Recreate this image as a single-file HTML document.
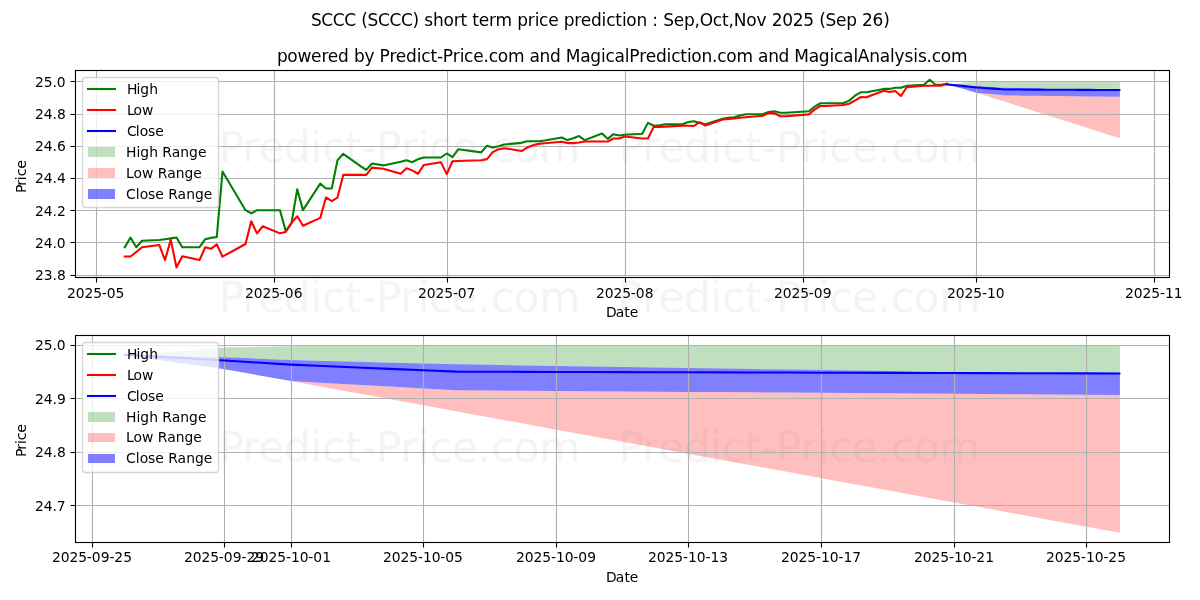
<!DOCTYPE html>
<html><head><meta charset="utf-8"><title>SCCC (SCCC) short term price prediction</title>
<style>
html,body{margin:0;padding:0;background:#fff;}
body{width:1200px;height:600px;overflow:hidden;}
svg{display:block;font-family:"DejaVu Sans","Liberation Sans",sans-serif;}
text{white-space:pre;}
</style></head><body>
<svg width="1200" height="600" viewBox="0 0 1200 600">
<rect width="1200" height="600" fill="#fff"/>
<clipPath id="clip1"><rect x="75.03" y="70.33" width="1094.11" height="206.56"/></clipPath>
<g clip-path="url(#clip1)">
<path d="M947.42 84.89 L947.42 84.89 L953.17 85.09 L958.92 85.29 L964.67 85.49 L970.42 85.92 L976.17 86.36 L981.92 86.61 L987.67 86.87 L993.42 87.12 L999.17 87.38 L1004.92 87.63 L1010.67 87.79 L1016.42 87.94 L1022.17 88.1 L1027.92 88.26 L1033.66 88.41 L1039.41 88.57 L1045.16 88.72 L1050.91 88.88 L1056.66 89.04 L1062.41 89.19 L1068.16 89.35 L1073.91 89.5 L1079.66 89.66 L1085.41 89.82 L1091.16 89.97 L1096.91 90.13 L1102.66 90.29 L1108.41 90.44 L1114.16 90.5 L1119.91 90.53 L1119.91 81.83 L1119.91 81.83 L1114.16 81.83 L1108.41 81.83 L1102.66 81.83 L1096.91 81.83 L1091.16 81.83 L1085.41 81.83 L1079.66 81.83 L1073.91 81.83 L1068.16 81.83 L1062.41 81.83 L1056.66 81.83 L1050.91 81.83 L1045.16 81.83 L1039.41 81.83 L1033.66 81.83 L1027.92 81.83 L1022.17 81.83 L1016.42 81.83 L1010.67 81.83 L1004.92 81.83 L999.17 81.83 L993.42 81.83 L987.67 81.83 L981.92 81.99 L976.17 82.15 L970.42 82.37 L964.67 82.59 L958.92 83.36 L953.17 84.12 L947.42 84.89Z" fill="#008000" fill-opacity="0.25"/>
<path d="M947.42 84.89 L947.42 84.89 L953.17 86.3 L958.92 87.72 L964.67 89.13 L970.42 90.89 L976.17 92.65 L981.92 94.48 L987.67 96.3 L993.42 98.13 L999.17 99.95 L1004.92 101.78 L1010.67 103.6 L1016.42 105.43 L1022.17 107.25 L1027.92 109.08 L1033.66 110.9 L1039.41 112.73 L1045.16 114.55 L1050.91 116.38 L1056.66 118.2 L1062.41 120.03 L1068.16 121.85 L1073.91 123.68 L1079.66 125.5 L1085.41 127.33 L1091.16 129.15 L1096.91 130.98 L1102.66 132.8 L1108.41 134.63 L1114.16 136.45 L1119.91 138.28 L1119.91 96.81 L1119.91 96.81 L1114.16 96.74 L1108.41 96.67 L1102.66 96.6 L1096.91 96.53 L1091.16 96.46 L1085.41 96.39 L1079.66 96.33 L1073.91 96.26 L1068.16 96.19 L1062.41 96.12 L1056.66 96.05 L1050.91 95.98 L1045.16 95.91 L1039.41 95.84 L1033.66 95.77 L1027.92 95.7 L1022.17 95.63 L1016.42 95.56 L1010.67 95.49 L1004.92 95.42 L999.17 94.87 L993.42 94.32 L987.67 93.76 L981.92 93.21 L976.17 92.65 L970.42 90.89 L964.67 89.13 L958.92 87.72 L953.17 86.3 L947.42 84.89Z" fill="#ff0000" fill-opacity="0.25"/>
<path d="M947.42 84.89 L947.42 84.89 L953.17 86.3 L958.92 87.72 L964.67 89.13 L970.42 90.89 L976.17 92.65 L981.92 93.21 L987.67 93.76 L993.42 94.32 L999.17 94.87 L1004.92 95.42 L1010.67 95.49 L1016.42 95.56 L1022.17 95.63 L1027.92 95.7 L1033.66 95.77 L1039.41 95.84 L1045.16 95.91 L1050.91 95.98 L1056.66 96.05 L1062.41 96.12 L1068.16 96.19 L1073.91 96.26 L1079.66 96.33 L1085.41 96.39 L1091.16 96.46 L1096.91 96.53 L1102.66 96.6 L1108.41 96.67 L1114.16 96.74 L1119.91 96.81 L1119.91 90.53 L1119.91 90.53 L1114.16 90.5 L1108.41 90.44 L1102.66 90.29 L1096.91 90.13 L1091.16 89.97 L1085.41 89.82 L1079.66 89.66 L1073.91 89.5 L1068.16 89.35 L1062.41 89.19 L1056.66 89.04 L1050.91 88.88 L1045.16 88.72 L1039.41 88.57 L1033.66 88.41 L1027.92 88.26 L1022.17 88.1 L1016.42 87.94 L1010.67 87.79 L1004.92 87.63 L999.17 87.38 L993.42 87.12 L987.67 86.87 L981.92 86.61 L976.17 86.36 L970.42 85.92 L964.67 85.49 L958.92 85.29 L953.17 85.09 L947.42 84.89Z" fill="#0000ff" fill-opacity="0.5"/>
</g>
<path d="M96.5 70.5 V277.5 M274.5 70.5 V277.5 M447.5 70.5 V277.5 M625.5 70.5 V277.5 M803.5 70.5 V277.5 M976.5 70.5 V277.5 M1154.5 70.5 V277.5 M75.5 275.5H1169.5 M75.5 242.5H1169.5 M75.5 210.5H1169.5 M75.5 178.5H1169.5 M75.5 146.5H1169.5 M75.5 114.5H1169.5 M75.5 81.5H1169.5" stroke="#b0b0b0" stroke-width="1.11" fill="none"/>
<path d="M96.5 277.5V282.5 M274.5 277.5V282.5 M447.5 277.5V282.5 M625.5 277.5V282.5 M803.5 277.5V282.5 M976.5 277.5V282.5 M1154.5 277.5V282.5 M75.5 275.5H70.5 M75.5 242.5H70.5 M75.5 210.5H70.5 M75.5 178.5H70.5 M75.5 146.5H70.5 M75.5 114.5H70.5 M75.5 81.5H70.5" stroke="#000" stroke-width="1.11" fill="none"/>
<text x="67 75.75 84.5 93.25 101.75 106.625 115.375" y="297.61" font-size="13.89" fill="#000000">2025-05</text>
<text x="245 253.75 262.5 271.25 279.75 284.625 293.625" y="297.61" font-size="13.89" fill="#000000">2025-06</text>
<text x="418 426.75 435.5 444.25 453 457.625 466.375" y="297.61" font-size="13.89" fill="#000000">2025-07</text>
<text x="596 604.75 613.5 622.25 630.75 635.625 644.625" y="297.61" font-size="13.89" fill="#000000">2025-08</text>
<text x="774 782.75 791.5 800.25 808.75 813.625 822.625" y="297.61" font-size="13.89" fill="#000000">2025-09</text>
<text x="947 955.75 964.5 973.25 982 986.875 995.75" y="297.61" font-size="13.89" fill="#000000">2025-10</text>
<text x="1125 1133.75 1142.5 1151.25 1160 1164.875 1173.75" y="297.61" font-size="13.89" fill="#000000">2025-11</text>
<text x="35 43.75 52.5 56.875" y="280.09" font-size="13.89" fill="#000000">23.8</text>
<text x="35 43.75 52.5 56.625" y="247.88" font-size="13.89" fill="#000000">24.0</text>
<text x="35 43.75 52.5 56.875" y="215.67" font-size="13.89" fill="#000000">24.2</text>
<text x="35 43.75 52.5 56.875" y="183.46" font-size="13.89" fill="#000000">24.4</text>
<text x="35 43.75 52.5 56.875" y="151.25" font-size="13.89" fill="#000000">24.6</text>
<text x="35 43.75 52.5 56.875" y="119.04" font-size="13.89" fill="#000000">24.8</text>
<text x="35 43.75 52.5 56.625" y="86.83" font-size="13.89" fill="#000000">25.0</text>
<g clip-path="url(#clip1)" fill="none" stroke-width="2.08" stroke-linejoin="round" stroke-linecap="square">
<path d="M124.76 247.21 L130.51 237.55 L136.26 247.21 L142.01 240.77 L159.26 239.96 L165.01 239.16 L170.76 238.35 L176.5 237.55 L182.25 247.21 L199.5 247.21 L205.25 239.16 L211 237.87 L216.75 237.06 L222.5 171.52 L245.5 210.17 L251.25 213.39 L257 210.17 L262.75 210.17 L279.99 210.17 L285.74 231.1 L291.49 223.05 L297.24 189.23 L302.99 210.17 L320.24 183.6 L325.99 188.43 L331.74 188.43 L337.49 160.24 L343.24 153.8 L360.49 166.04 L366.23 169.91 L371.98 163.47 L383.48 165.4 L400.73 161.85 L406.48 160.24 L412.23 162.18 L417.98 159.28 L423.73 157.51 L440.98 157.51 L446.73 153.48 L452.48 157.18 L458.23 149.29 L481.22 152.35 L486.97 145.75 L492.72 147.52 L498.47 146.15 L504.22 144.46 L521.47 142.85 L527.22 141.24 L532.97 141.24 L538.72 141.24 L544.47 140.44 L561.71 137.54 L567.46 140.11 L573.21 138.18 L578.96 136.09 L584.71 140.11 L601.96 133.51 L607.71 138.83 L613.46 134.16 L619.21 135.44 L624.96 134.8 L642.21 133.83 L647.96 122.88 L653.7 125.78 L659.45 125.3 L665.2 124.33 L682.45 124.33 L688.2 121.92 L693.95 121.27 L699.7 123.04 L705.45 124.33 L722.7 118.86 L728.45 117.89 L734.2 117.25 L739.95 115.47 L745.69 114.19 L762.94 113.94 L768.69 112.09 L774.44 111.29 L780.19 112.74 L785.94 112.74 L808.94 111.29 L814.69 106.62 L820.44 103.23 L826.19 103.23 L843.43 103.07 L849.18 100.66 L854.93 95.67 L860.68 92.28 L866.43 92.28 L883.68 88.9 L889.43 88.9 L895.18 87.77 L900.93 87.77 L906.68 85.68 L923.93 84.71 L929.68 79.72 L935.43 84.71 L941.17 84.71 L946.92 83.75" stroke="#008000"/>
<path d="M124.76 256.55 L130.51 256.55 L136.26 252.04 L142.01 247.21 L159.26 244.95 L165.01 260.09 L170.76 239.64 L176.5 267.5 L182.25 256.23 L199.5 260.09 L205.25 247.21 L211 248.82 L216.75 244.31 L222.5 256.71 L245.5 243.99 L251.25 221.28 L257 233.36 L262.75 226.27 L279.99 233.36 L285.74 232.07 L291.49 222.89 L297.24 216.29 L302.99 225.79 L320.24 217.9 L325.99 197.45 L331.74 201.15 L337.49 197.61 L343.24 174.9 L360.49 174.9 L366.23 174.9 L371.98 167.65 L383.48 168.78 L400.73 173.77 L406.48 168.3 L412.23 170.39 L417.98 173.77 L423.73 165.08 L440.98 162.34 L446.73 174.09 L452.48 161.21 L458.23 161.05 L481.22 160.24 L486.97 159.12 L492.72 152.19 L498.47 149.29 L504.22 148.17 L521.47 151.06 L527.22 147.52 L532.97 145.27 L538.72 143.88 L544.47 143.17 L561.71 141.72 L567.46 143.09 L573.21 143.09 L578.96 142.53 L584.71 141.56 L601.96 141.56 L607.71 141.56 L613.46 138.5 L619.21 138.5 L624.96 136.57 L642.21 138.5 L647.96 138.5 L653.7 126.91 L659.45 127.07 L665.2 126.59 L682.45 125.62 L688.2 125.78 L693.95 125.94 L699.7 122.24 L705.45 125.62 L722.7 119.5 L728.45 118.86 L734.2 118.53 L739.95 117.73 L745.69 117.25 L762.94 115.8 L768.69 112.9 L774.44 113.27 L780.19 116.28 L785.94 116.28 L808.94 114.35 L814.69 109.52 L820.44 105.97 L826.19 105.97 L843.43 105.01 L849.18 103.72 L854.93 100.66 L860.68 97.02 L866.43 97.28 L883.68 90.67 L889.43 91.96 L895.18 91 L900.93 95.99 L906.68 87.29 L923.93 85.68 L929.68 85.68 L935.43 85.6 L941.17 85.6 L946.92 84.23" stroke="#ff0000"/>
<path d="M946.92 84.39 L952.67 84.97 L958.42 85.54 L964.17 86.12 L969.92 86.74 L975.67 87.37 L981.42 87.79 L987.17 88.22 L992.92 88.64 L998.67 89.06 L1004.42 89.48 L1010.17 89.51 L1015.92 89.54 L1021.67 89.56 L1027.42 89.59 L1033.16 89.62 L1038.91 89.65 L1044.66 89.67 L1050.41 89.7 L1056.16 89.73 L1061.91 89.76 L1067.66 89.78 L1073.41 89.81 L1079.16 89.84 L1084.91 89.86 L1090.66 89.89 L1096.41 89.92 L1102.16 89.95 L1107.91 89.97 L1113.66 90 L1119.41 90.03" stroke="#0000ff"/>
</g>
<rect x="75.5" y="70.5" width="1094" height="207" fill="none" stroke="#000" stroke-width="1.11" stroke-linecap="square"/>
<text x="606 615.75 624.125 629.625" y="317.17" font-size="13.89" fill="#000000">Date</text>
<text transform="translate(25.8 194) rotate(-90)" x="1 8.375 13.875 17.75 25.375" font-size="14.17" fill="#000000">Price</text>
<text x="277.1 287.35 297.475 311.1 321.6 327.85 338.1 348.6 354.1 364.6 374.225 379.475 389.6 395.85 406.1 416.85 421.225 430.6 437.1 442.725 452.85 459.725 464.1 473.225 483.475 488.725 497.85 507.975 524.225 529.475 539.6 550.1 560.6 565.85 580.225 590.35 601.1 605.475 614.6 624.725 629.35 639.225 645.725 655.975 666.475 671.35 680.225 686.975 691.35 701.475 711.975 717.225 726.35 736.475 752.725 757.975 768.35 778.6 789.1 794.35 808.725 818.85 829.6 833.975 843.1 853.475 857.85 869.225 879.725 890.1 894.475 904.6 913.35 917.975 926.475 931.725 940.85 950.975" y="62" font-size="17" fill="#000000">powered by Predict-Price.com and MagicalPrediction.com and MagicalAnalysis.com</text>
<rect x="82.5" y="77.5" width="136" height="130" rx="3" ry="3" fill="#fff" fill-opacity="0.8" stroke="#ccc" stroke-opacity="0.8" stroke-width="1.39"/>
<path d="M88 89 L101 89 L115 89" stroke="#008000" stroke-width="2.08" fill="none" stroke-linecap="square"/>
<path d="M88 110 L101 110 L115 110" stroke="#ff0000" stroke-width="2.08" fill="none" stroke-linecap="square"/>
<path d="M88 131 L101 131 L115 131" stroke="#0000ff" stroke-width="2.08" fill="none" stroke-linecap="square"/>
<rect x="88" y="147" width="27" height="10" fill="#008000" fill-opacity="0.25"/>
<rect x="88" y="168" width="27" height="10" fill="#ff0000" fill-opacity="0.25"/>
<rect x="88" y="189" width="27" height="10" fill="#0000ff" fill-opacity="0.5"/>
<text x="127 136.375 140.25 149.125" y="93.83" font-size="13.89" fill="#000000">High</text>
<text x="127 133.5 142" y="114.78" font-size="13.89" fill="#000000">Low</text>
<text x="127 135.75 139.625 147.875 155.25" y="135.72" font-size="13.89" fill="#000000">Close</text>
<text x="126 136.375 140.25 149.125 157.875 162.25 171.625 180.25 189 197.875" y="156.67" font-size="13.89" fill="#000000">High Range</text>
<text x="126 133.5 142 153.375 157.75 167.125 175.75 184.5 193.125" y="177.61" font-size="13.89" fill="#000000">Low Range</text>
<text x="126 135.75 139.625 147.875 155.25 163.75 168.125 177.5 186.125 194.875 203.75" y="198.56" font-size="13.89" fill="#000000">Close Range</text>
<clipPath id="clip2"><rect x="75.03" y="335.17" width="1094.11" height="206.56"/></clipPath>
<g clip-path="url(#clip2)">
<path d="M125.26 355.23 L125.26 355.23 L158.41 355.9 L191.57 356.56 L224.72 357.22 L257.88 358.66 L291.03 360.11 L324.19 360.96 L357.34 361.8 L390.5 362.65 L423.65 363.5 L456.81 364.34 L489.96 364.86 L523.12 365.38 L556.27 365.9 L589.43 366.42 L622.58 366.94 L655.74 367.46 L688.89 367.98 L722.05 368.5 L755.2 369.02 L788.36 369.54 L821.51 370.06 L854.67 370.58 L887.82 371.1 L920.98 371.62 L954.13 372.14 L987.29 372.66 L1020.44 373.18 L1053.6 373.7 L1086.75 373.89 L1119.91 373.99 L1119.91 345.06 L1119.91 345.06 L1086.75 345.06 L1053.6 345.06 L1020.44 345.06 L987.29 345.06 L954.13 345.06 L920.98 345.06 L887.82 345.06 L854.67 345.06 L821.51 345.06 L788.36 345.06 L755.2 345.06 L722.05 345.06 L688.89 345.06 L655.74 345.06 L622.58 345.06 L589.43 345.06 L556.27 345.06 L523.12 345.06 L489.96 345.06 L456.81 345.06 L423.65 345.06 L390.5 345.06 L357.34 345.06 L324.19 345.59 L291.03 346.13 L257.88 346.85 L224.72 347.57 L191.57 350.13 L158.41 352.68 L125.26 355.23Z" fill="#008000" fill-opacity="0.25"/>
<path d="M125.26 355.23 L125.26 355.23 L158.41 359.93 L191.57 364.63 L224.72 369.32 L257.88 375.19 L291.03 381.06 L324.19 387.13 L357.34 393.2 L390.5 399.27 L423.65 405.34 L456.81 411.41 L489.96 417.48 L523.12 423.55 L556.27 429.63 L589.43 435.7 L622.58 441.77 L655.74 447.84 L688.89 453.91 L722.05 459.98 L755.2 466.05 L788.36 472.12 L821.51 478.19 L854.67 484.27 L887.82 490.34 L920.98 496.41 L954.13 502.48 L987.29 508.55 L1020.44 514.62 L1053.6 520.69 L1086.75 526.76 L1119.91 532.83 L1119.91 394.88 L1119.91 394.88 L1086.75 394.65 L1053.6 394.42 L1020.44 394.19 L987.29 393.96 L954.13 393.73 L920.98 393.5 L887.82 393.27 L854.67 393.04 L821.51 392.81 L788.36 392.58 L755.2 392.35 L722.05 392.12 L688.89 391.88 L655.74 391.65 L622.58 391.42 L589.43 391.19 L556.27 390.96 L523.12 390.73 L489.96 390.5 L456.81 390.27 L423.65 388.43 L390.5 386.59 L357.34 384.74 L324.19 382.9 L291.03 381.06 L257.88 375.19 L224.72 369.32 L191.57 364.63 L158.41 359.93 L125.26 355.23Z" fill="#ff0000" fill-opacity="0.25"/>
<path d="M125.26 355.23 L125.26 355.23 L158.41 359.93 L191.57 364.63 L224.72 369.32 L257.88 375.19 L291.03 381.06 L324.19 382.9 L357.34 384.74 L390.5 386.59 L423.65 388.43 L456.81 390.27 L489.96 390.5 L523.12 390.73 L556.27 390.96 L589.43 391.19 L622.58 391.42 L655.74 391.65 L688.89 391.88 L722.05 392.12 L755.2 392.35 L788.36 392.58 L821.51 392.81 L854.67 393.04 L887.82 393.27 L920.98 393.5 L954.13 393.73 L987.29 393.96 L1020.44 394.19 L1053.6 394.42 L1086.75 394.65 L1119.91 394.88 L1119.91 373.99 L1119.91 373.99 L1086.75 373.89 L1053.6 373.7 L1020.44 373.18 L987.29 372.66 L954.13 372.14 L920.98 371.62 L887.82 371.1 L854.67 370.58 L821.51 370.06 L788.36 369.54 L755.2 369.02 L722.05 368.5 L688.89 367.98 L655.74 367.46 L622.58 366.94 L589.43 366.42 L556.27 365.9 L523.12 365.38 L489.96 364.86 L456.81 364.34 L423.65 363.5 L390.5 362.65 L357.34 361.8 L324.19 360.96 L291.03 360.11 L257.88 358.66 L224.72 357.22 L191.57 356.56 L158.41 355.9 L125.26 355.23Z" fill="#0000ff" fill-opacity="0.5"/>
</g>
<path d="M92.5 335.5 V542.5 M224.5 335.5 V542.5 M291.5 335.5 V542.5 M423.5 335.5 V542.5 M556.5 335.5 V542.5 M688.5 335.5 V542.5 M821.5 335.5 V542.5 M954.5 335.5 V542.5 M1086.5 335.5 V542.5 M75.5 505.5H1169.5 M75.5 452.5H1169.5 M75.5 398.5H1169.5 M75.5 345.5H1169.5" stroke="#b0b0b0" stroke-width="1.11" fill="none"/>
<path d="M92.5 542.5V547.5 M224.5 542.5V547.5 M291.5 542.5V547.5 M423.5 542.5V547.5 M556.5 542.5V547.5 M688.5 542.5V547.5 M821.5 542.5V547.5 M954.5 542.5V547.5 M1086.5 542.5V547.5 M75.5 505.5H70.5 M75.5 452.5H70.5 M75.5 398.5H70.5 M75.5 345.5H70.5" stroke="#000" stroke-width="1.11" fill="none"/>
<text x="52 60.75 69.5 78.25 86.75 91.625 100.625 109.5 114.125 123.125" y="562.44" font-size="13.89" fill="#000000">2025-09-25</text>
<text x="184 192.75 201.5 210.25 218.75 223.625 232.625 241.5 246.375 255.125" y="562.44" font-size="13.89" fill="#000000">2025-09-29</text>
<text x="251 259.75 268.5 277.25 286 290.875 299.75 308.25 313.125 322.125" y="562.44" font-size="13.89" fill="#000000">2025-10-01</text>
<text x="383 391.75 400.5 409.25 418 422.875 431.75 440.25 445.125 453.875" y="562.44" font-size="13.89" fill="#000000">2025-10-05</text>
<text x="516 524.75 533.5 542.25 551 555.875 564.75 573.25 578.125 587.125" y="562.44" font-size="13.89" fill="#000000">2025-10-09</text>
<text x="648 656.75 665.5 674.25 683 687.875 696.75 705.5 710.375 719.25" y="562.44" font-size="13.89" fill="#000000">2025-10-13</text>
<text x="781 789.75 798.5 807.25 816 820.875 829.75 838.5 843.375 852.25" y="562.44" font-size="13.89" fill="#000000">2025-10-17</text>
<text x="914 922.75 931.5 940.25 949 953.875 962.75 971.5 976.125 985.125" y="562.44" font-size="13.89" fill="#000000">2025-10-21</text>
<text x="1046 1054.75 1063.5 1072.25 1081 1085.875 1094.75 1103.5 1108.125 1117.125" y="562.44" font-size="13.89" fill="#000000">2025-10-25</text>
<text x="35 43.75 52.5 56.625" y="510.78" font-size="13.89" fill="#000000">24.7</text>
<text x="35 43.75 52.5 56.875" y="457.2" font-size="13.89" fill="#000000">24.8</text>
<text x="35 43.75 52.5 56.875" y="403.63" font-size="13.89" fill="#000000">24.9</text>
<text x="35 43.75 52.5 56.625" y="350.06" font-size="13.89" fill="#000000">25.0</text>
<g clip-path="url(#clip2)" fill="none" stroke-width="2.08" stroke-linejoin="round" stroke-linecap="square">
<path d="M124.76 354.73 L157.91 356.65 L191.07 358.56 L224.22 360.47 L257.38 362.56 L290.53 364.65 L323.69 366.05 L356.84 367.45 L390 368.86 L423.15 370.26 L456.31 371.66 L489.46 371.76 L522.62 371.85 L555.77 371.94 L588.93 372.03 L622.08 372.12 L655.24 372.21 L688.39 372.3 L721.55 372.39 L754.7 372.48 L787.86 372.57 L821.01 372.67 L854.17 372.76 L887.32 372.85 L920.48 372.94 L953.63 373.03 L986.79 373.12 L1019.94 373.21 L1053.1 373.3 L1086.25 373.39 L1119.41 373.49" stroke="#0000ff"/>
</g>
<rect x="75.5" y="335.5" width="1094" height="207" fill="none" stroke="#000" stroke-width="1.11" stroke-linecap="square"/>
<text x="606 615.75 624.375 629.625" y="582" font-size="13.89" fill="#000000">Date</text>
<text transform="translate(25.8 457.88) rotate(-90)" x="1 8.125 13.875 17.75 25.125" font-size="14.17" fill="#000000">Price</text>
<rect x="82.5" y="342.5" width="136" height="130" rx="3" ry="3" fill="#fff" fill-opacity="0.8" stroke="#ccc" stroke-opacity="0.8" stroke-width="1.39"/>
<path d="M88 354 L101 354 L115 354" stroke="#008000" stroke-width="2.08" fill="none" stroke-linecap="square"/>
<path d="M88 375 L101 375 L115 375" stroke="#ff0000" stroke-width="2.08" fill="none" stroke-linecap="square"/>
<path d="M88 396 L101 396 L115 396" stroke="#0000ff" stroke-width="2.08" fill="none" stroke-linecap="square"/>
<rect x="88" y="412" width="27" height="10" fill="#008000" fill-opacity="0.25"/>
<rect x="88" y="433" width="27" height="9" fill="#ff0000" fill-opacity="0.25"/>
<rect x="88" y="454" width="27" height="9" fill="#0000ff" fill-opacity="0.5"/>
<text x="127 136.375 140.25 149.125" y="358.67" font-size="13.89" fill="#000000">High</text>
<text x="127 133.5 142" y="379.61" font-size="13.89" fill="#000000">Low</text>
<text x="127 135.75 139.625 147.875 155.25" y="400.56" font-size="13.89" fill="#000000">Close</text>
<text x="126 136.375 140.25 149.125 157.875 162.25 171.625 180.25 189 197.875" y="421.5" font-size="13.89" fill="#000000">High Range</text>
<text x="126 133.5 142 153.375 157.75 167.125 175.75 184.5 193.125" y="442.44" font-size="13.89" fill="#000000">Low Range</text>
<text x="126 135.75 139.625 147.875 155.25 163.75 168.125 177.5 186.125 194.875 203.75" y="463.39" font-size="13.89" fill="#000000">Close Range</text>
<text x="311.1 321.35 332.85 344.35 355.85 361.35 367.475 377.975 389.475 400.975 412.475 418.975 424.225 432.975 443.475 453.85 460.475 466.975 472.225 478.725 488.975 495.6 511.85 517.35 527.85 534.725 539.1 548.225 558.475 563.725 574.225 580.725 590.975 601.475 606.35 615.225 621.975 626.35 636.475 646.975 652.225 657.975 663.225 673.725 683.975 694.475 699.85 712.85 721.975 728.475 733.85 746.35 756.475 766.35 771.85 782.225 792.725 803.35 813.85 819.35 825.475 835.975 846.225 856.725 861.975 872.6 883.35" y="26" font-size="17" fill="#000000">SCCC (SCCC) short term price prediction : Sep,Oct,Nov 2025 (Sep 26)</text>
<text x="218.8 242.175 258.425 284.05 310.425 321.925 345.05 361.175 376.175 400.55 417.675 429.175 452.05 477.675 490.925 513.8 539.175" y="462" font-size="42.08" fill="#808080" fill-opacity="0.09">Predict-Price.com</text>
<text x="218.8 242.175 258.425 283.8 310.425 321.925 345.05 361.175 376.175 400.55 417.675 429.175 451.8 477.675 490.925 513.8 539.175" y="312" font-size="42.08" fill="#808080" fill-opacity="0.09">Predict-Price.com</text>
<text x="218.8 242.175 258.425 284.05 310.425 321.925 345.05 361.175 376.175 400.8 417.675 429.175 452.05 477.675 490.925 513.8 539.175" y="162" font-size="42.08" fill="#808080" fill-opacity="0.09">Predict-Price.com</text>
<text x="618.8 642.175 658.425 684.05 710.425 721.925 745.05 761.175 776.175 800.55 817.675 829.175 852.05 877.675 890.925 913.8 939.175" y="462" font-size="42.08" fill="#808080" fill-opacity="0.09">Predict-Price.com</text>
<text x="617.8 642.175 658.425 684.05 710.425 721.925 745.05 761.175 776.175 800.55 817.675 829.175 852.05 877.675 890.925 913.8 939.175" y="312" font-size="42.08" fill="#808080" fill-opacity="0.09">Predict-Price.com</text>
<text x="618.8 642.175 658.425 684.05 710.425 721.925 745.05 761.175 776.175 800.55 817.675 829.175 852.05 877.675 890.925 913.8 939.175" y="162" font-size="42.08" fill="#808080" fill-opacity="0.09">Predict-Price.com</text>
</svg>
</body></html>
